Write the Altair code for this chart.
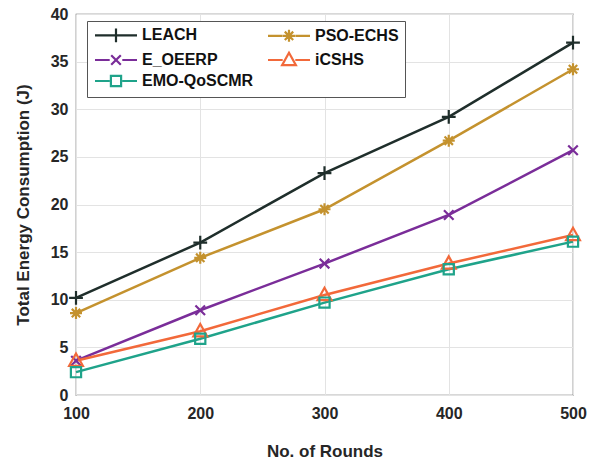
import altair as alt
import pandas as pd

rounds = [100, 200, 300, 400, 500]
series = ["LEACH", "PSO-ECHS", "E_OEERP", "iCSHS", "EMO-QoSCMR"]
leach = [10.2, 16.0, 23.3, 29.2, 37.0]
pso_echs = [8.6, 14.4, 19.5, 26.7, 34.2]
e_oeerp = [3.6, 8.9, 13.8, 18.9, 25.7]
icshs = [3.6, 6.7, 10.5, 13.8, 16.8]
emo_qoscmr = [2.4, 5.9, 9.7, 13.2, 16.1]
colors = ["#1f2e2b", "#c4922e", "#7a2d99", "#f2693a", "#1fa38a"]
markers = [
    "M-1.15,0H1.15M0,-1.15V1.15",
    "M-1,0H1M0,-1V1M-0.7,-0.7L0.7,0.7M-0.7,0.7L0.7,-0.7",
    "M-0.8,-0.8L0.8,0.8M-0.8,0.8L0.8,-0.8",
    "M0,-1.2L1.15,0.85L-1.15,0.85Z",
    "M-0.85,-0.85H0.85V0.85H-0.85Z",
]

values = [leach, pso_echs, e_oeerp, icshs, emo_qoscmr]
rows = []
for name, vals in zip(series, values):
    for r, v in zip(rounds, vals):
        rows.append({"Rounds": r, "Energy": v, "Series": name})
df = pd.DataFrame(rows)

# legend symbol = short line on both sides of the marker
legend_line = "M-3.5,0L-1.05,0M1.05,0L3.5,0"
expr = "'stroke'"
for name, m in reversed(list(zip(series, markers))):
    expr = f"datum.value === '{name}' ? '{m}{legend_line}' : {expr}"

legend = alt.Legend(
    title=None,
    orient="none",
    direction="horizontal",
    legendX=11,
    legendY=7,
    columns=2,
    columnPadding=9,
    rowPadding=1,
    padding=6,
    fillColor="white",
    strokeColor="#555555",
    labelFont="Liberation Sans",
    labelFontSize=16,
    labelFontWeight="bold",
    labelColor="#111111",
    symbolSize=144,
    symbolStrokeWidth=2.2,
    symbolOffset=15,
    labelOffset=18,
    symbolFillColor="transparent",
    symbolType={"expr": expr},
)

xenc = alt.X(
    "Rounds:Q",
    scale=alt.Scale(domain=[100, 500], nice=False),
    axis=alt.Axis(values=rounds, title="No. of Rounds", titlePadding=22, labelPadding=10, labelFlush=False),
)
yenc = alt.Y(
    "Energy:Q",
    scale=alt.Scale(domain=[0, 40], nice=False),
    axis=alt.Axis(values=list(range(0, 41, 5)), title="Total Energy Consumption (J)", titlePadding=18,
                  labelPadding=8, labelFlush=False),
)
cscale = alt.Scale(domain=series, range=colors)

lines = alt.Chart(df).mark_line(strokeWidth=2.5).encode(
    x=xenc, y=yenc, color=alt.Color("Series:N", scale=cscale, sort=series, legend=legend)
)
point_layers = [
    alt.Chart(df)
    .transform_filter(alt.datum.Series == name)
    .mark_point(shape=m, filled=False, size=144, strokeWidth=2.2, opacity=1)
    .encode(x=xenc, y=yenc, color=alt.Color("Series:N", scale=cscale, sort=series, legend=None))
    for name, m in zip(series, markers)
]

chart = (
    alt.layer(lines, *point_layers)
    .properties(
        width=497,
        height=381,
        autosize=alt.AutoSizeParams(type="none"),
        padding={"left": 76, "top": 14, "right": 17, "bottom": 67},
        background="white",
    )
    .configure_view(stroke="#666666", strokeWidth=1.2)
    .configure_axis(
        labelFont="Liberation Sans",
        labelFontSize=16,
        labelFontWeight="bold",
        labelColor="#262626",
        titleFont="Liberation Sans",
        titleFontSize=17,
        titleFontWeight="bold",
        titleColor="#262626",
        grid=True,
        gridColor="#e3e3e3",
        gridWidth=1,
        domain=False,
        ticks=False,
    )
)

chart.save("out.html", embed_options={"renderer": "svg", "actions": False})
